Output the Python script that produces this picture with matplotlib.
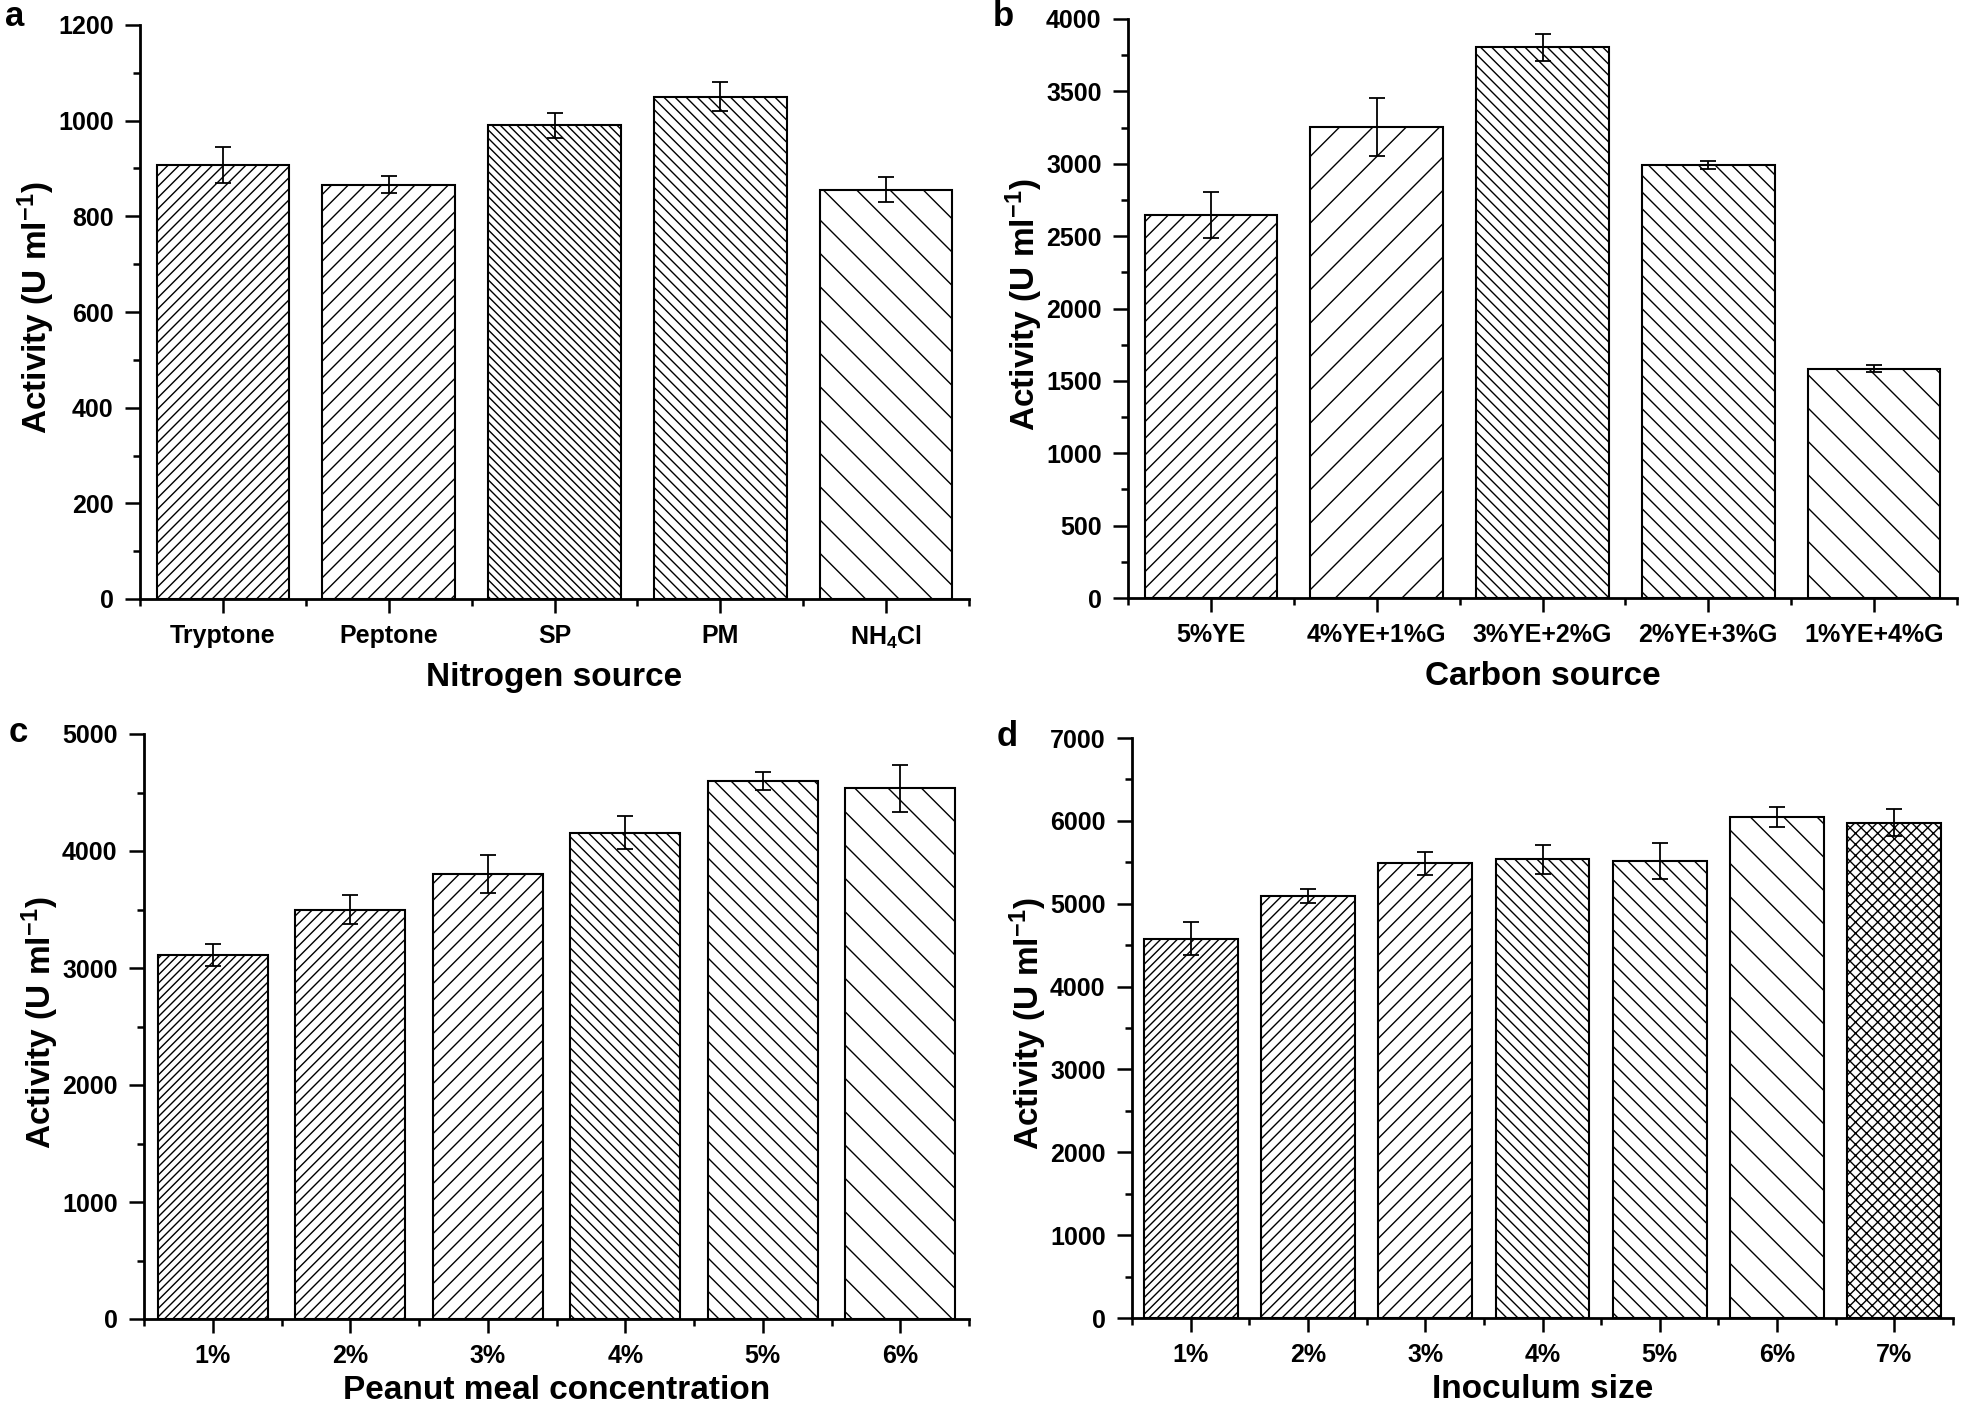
import matplotlib
matplotlib.use('Agg')
import matplotlib.pyplot as plt
import matplotlib.transforms as mtransforms
import numpy as np

plt.rcParams['font.family'] = ['Liberation Sans', 'DejaVu Sans']
plt.rcParams['font.weight'] = 'bold'
plt.rcParams['mathtext.fontset'] = 'custom'
plt.rcParams['mathtext.rm'] = 'Liberation Sans:bold'
plt.rcParams['mathtext.it'] = 'Liberation Sans:bold'
plt.rcParams['mathtext.bf'] = 'Liberation Sans:bold'
plt.rcParams['hatch.linewidth'] = 1.0

# data
nitrogen = ['Tryptone', 'Peptone', 'SP', 'PM', 'NH$_4$Cl']
nitrogen_act = [907, 866, 990, 1050, 856]
nitrogen_err = [37, 18, 27, 30, 27]
nitrogen_hatch = ['///', '//', '\\\\\\\\', '\\\\\\', '\\']

carbon = ['5%YE', '4%YE+1%G', '3%YE+2%G', '2%YE+3%G', '1%YE+4%G']
carbon_act = [2646, 3252, 3804, 2993, 1583]
carbon_err = [158, 200, 92, 27, 24]
carbon_hatch = ['//', '/', '\\\\\\', '\\\\', '\\']

peanut = ['1%', '2%', '3%', '4%', '5%', '6%']
peanut_act = [3108, 3500, 3803, 4155, 4600, 4535]
peanut_err = [95, 120, 160, 140, 75, 200]
peanut_hatch = ['////', '///', '//', '\\\\\\', '\\\\', '\\']

inoculum = ['1%', '2%', '3%', '4%', '5%', '6%', '7%']
inoculum_act = [4580, 5092, 5486, 5535, 5515, 6042, 5978]
inoculum_err = [200, 80, 135, 175, 215, 120, 160]
inoculum_hatch = ['////', '///', '//', '\\\\\\', '\\\\', '\\', 'xxx']

W, H = 1961, 1409
fig = plt.figure(figsize=(W / 100, H / 100), dpi=100)


def panel(box, letter, letter_y, cats, vals, errs, hatches, ymax, ystep,
          xlabel, xlab_gap):
    l, r, t, b = box
    ax = fig.add_axes([l / W, 1 - b / H, (r - l) / W, (b - t) / H])
    x = np.arange(1, len(cats) + 1)
    bars = ax.bar(x, vals, width=0.8, color='white', edgecolor='black', linewidth=1.5)
    for bar, h in zip(bars, hatches):
        bar.set_hatch(h)
    ax.errorbar(x, vals, yerr=errs, fmt='none', ecolor='black',
                elinewidth=1.3, capsize=5.5, capthick=1.3)
    ax.set_xlim(0.5, len(cats) + 0.5)
    ax.set_ylim(0, ymax)
    ax.set_xticks(x)
    ax.set_xticklabels(cats)
    ax.set_xticks(np.arange(0.5, len(cats) + 1, 1), minor=True)
    ax.set_yticks(np.arange(0, ymax + 1, ystep))
    ax.set_yticks(np.arange(0, ymax + 1, ystep / 2), minor=True)
    for s in ['top', 'right']:
        ax.spines[s].set_visible(False)
    for s in ['left', 'bottom']:
        ax.spines[s].set_linewidth(2)
    ax.tick_params(which='major', direction='out', length=11, width=1.8,
                   labelsize=18, pad=8)
    ax.tick_params(which='minor', direction='out', length=5, width=1.8)
    ax.tick_params(axis='x', which='major', length=10)
    for lab in ax.get_xticklabels() + ax.get_yticklabels():
        lab.set_fontweight('bold')

    ax.set_ylabel('Activity (U ml$^{-1}$)', fontsize=24, fontweight='bold')
    ax.yaxis.set_label_coords((l - 83) / W, 1 - ((t + b) / 2 - 4) / H,
                              transform=fig.transFigure)
    ax.set_xlabel(xlabel, fontsize=24, fontweight='bold')
    tr = mtransforms.blended_transform_factory(ax.transAxes, fig.transFigure)
    ax.xaxis.set_label_coords(0.5, 1 - (b + xlab_gap) / H, transform=tr)
    ax.xaxis.label.set_verticalalignment('top')

    fig.text((l - 135) / W, 1 - letter_y / H, letter, fontsize=25,
             fontweight='bold', ha='left', va='baseline')
    return ax


panel((140, 969, 25, 599), 'a', 26, nitrogen, nitrogen_act, nitrogen_err,
      nitrogen_hatch, 1200, 200, 'Nitrogen source', 63)
panel((1128, 1957, 19, 598), 'b', 26, carbon, carbon_act, carbon_err,
      carbon_hatch, 4000, 500, 'Carbon source', 63)
panel((144, 969, 734, 1319), 'c', 742, peanut, peanut_act, peanut_err,
      peanut_hatch, 5000, 1000, 'Peanut meal concentration', 56)
panel((1132, 1953, 738, 1318), 'd', 746, inoculum, inoculum_act, inoculum_err,
      inoculum_hatch, 7000, 1000, 'Inoculum size', 56)

fig.savefig('out.png', dpi=100)
